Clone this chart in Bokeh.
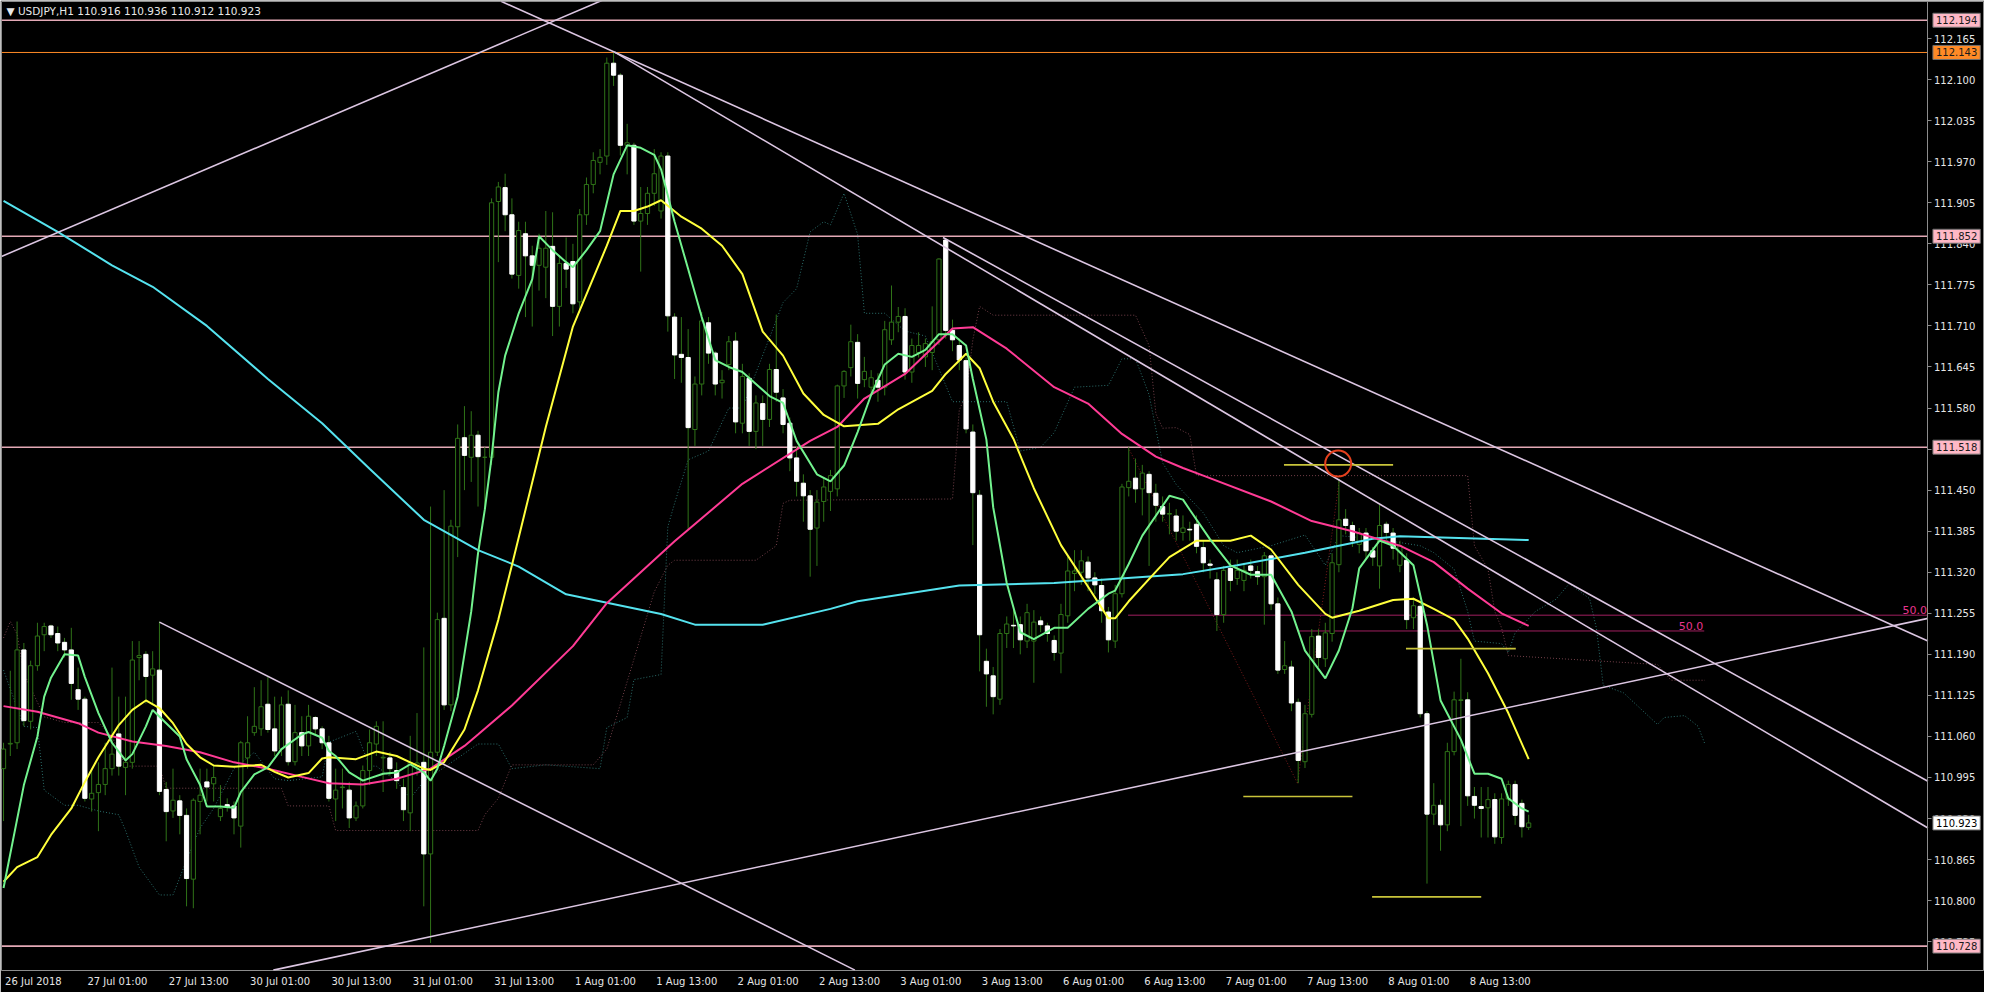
from bokeh.plotting import figure
from bokeh.models import Range1d, FixedTicker, PrintfTickFormatter, Label, LinearAxis, ColumnDataSource
from bokeh.embed import file_html
from bokeh.resources import INLINE

# ---------------- data ----------------
symbol_title = "\u25BC USDJPY,H1  110.916 110.936 110.912 110.923"

opens = [111.009,111.048,111.050,111.197,111.084,111.172,111.221,111.235,111.223,111.209,
         111.197,111.134,111.119,110.961,110.971,110.984,111.009,111.064,111.011,111.019,
         111.185,111.190,111.157,111.165,110.976,110.942,110.958,110.935,110.834,110.957,
         110.988,110.985,110.933,110.952,110.950,110.918,111.026,111.066,111.072,111.111,
         111.072,111.040,111.111,111.020,111.066,111.045,111.090,111.072,111.050,110.961,
         110.979,110.975,110.931,110.950,111.006,111.048,111.026,111.026,111.006,110.979,
         110.939,111.014,111.019,110.874,111.035,111.247,111.110,111.392,111.533,111.502,
         111.537,111.502,111.502,111.907,111.929,111.886,111.790,111.856,111.821,111.806,
         111.803,111.836,111.741,111.809,111.812,111.748,111.886,111.934,111.969,111.979,
         112.126,112.107,111.996,111.996,111.876,111.888,111.920,111.892,111.979,111.724,
         111.665,111.660,111.546,111.618,111.715,111.667,111.620,111.649,111.686,111.556,
         111.627,111.543,111.587,111.562,111.641,111.596,111.556,111.501,111.461,111.441,
         111.390,111.432,111.448,111.452,111.615,111.644,111.684,111.625,111.613,111.624,
         111.613,111.688,111.716,111.725,111.637,111.668,111.661,111.668,111.688,111.846,
         111.703,111.679,111.655,111.542,111.442,111.179,111.156,111.119,111.223,111.236,
         111.237,111.211,111.211,111.243,111.235,111.212,111.192,111.251,111.318,111.320,
         111.336,111.311,111.299,111.257,111.211,111.286,111.454,111.469,111.452,111.475,
         111.445,111.424,111.412,111.409,111.383,111.388,111.396,111.359,111.333,111.308,
         111.253,111.326,111.310,111.307,111.330,111.321,111.313,111.346,111.270,111.166,
         111.170,111.114,111.020,111.095,111.219,111.183,111.223,111.332,111.404,111.394,
         111.364,111.382,111.354,111.330,111.396,111.382,111.331,111.339,111.248,111.266,
         111.096,110.937,110.951,110.920,111.036,111.117,111.118,110.965,110.949,110.947,
         110.960,110.900,110.961,110.984,110.954,110.916]
highs = [111.050,111.164,111.242,111.208,111.180,111.240,111.240,111.237,111.234,111.216,
         111.232,111.169,111.123,111.009,111.019,111.050,111.169,111.123,111.123,111.211,
         111.211,111.195,111.195,111.242,110.988,111.009,110.967,110.946,110.962,111.009,
         111.009,111.014,110.983,110.962,110.957,111.053,111.092,111.138,111.149,111.154,
         111.123,111.123,111.133,111.110,111.092,111.110,111.092,111.076,111.061,111.009,
         111.009,110.988,110.957,111.014,111.071,111.084,111.084,111.035,111.019,110.993,
         111.061,111.097,111.201,111.424,111.256,111.450,111.403,111.554,111.583,111.575,
         111.544,111.518,111.912,111.938,111.951,111.912,111.875,111.875,111.837,111.856,
         111.892,111.890,111.822,111.850,111.840,111.895,111.945,111.985,111.990,112.135,
         112.143,112.110,112.030,112.000,111.930,111.930,111.990,111.985,111.985,111.730,
         111.724,111.705,111.630,111.732,111.724,111.670,111.640,111.694,111.700,111.650,
         111.635,111.600,111.600,111.650,111.728,111.610,111.565,111.520,111.475,111.450,
         111.450,111.470,111.482,111.617,111.640,111.712,111.697,111.661,111.640,111.635,
         111.718,111.774,111.740,111.738,111.690,111.700,111.690,111.741,111.817,111.849,
         111.720,111.690,111.660,111.554,111.450,111.199,111.170,111.230,111.250,111.260,
         111.250,111.270,111.260,111.250,111.240,111.220,111.270,111.345,111.355,111.355,
         111.345,111.320,111.310,111.265,111.300,111.460,111.518,111.500,111.490,111.480,
         111.460,111.440,111.430,111.420,111.410,111.400,111.410,111.370,111.340,111.320,
         111.330,111.340,111.340,111.335,111.340,111.330,111.352,111.350,111.280,111.211,
         111.180,111.120,111.110,111.230,111.230,111.240,111.350,111.468,111.420,111.400,
         111.390,111.390,111.360,111.427,111.400,111.390,111.370,111.350,111.280,111.270,
         111.100,110.986,110.960,111.050,111.131,111.183,111.130,110.980,110.980,110.980,
         110.970,110.970,110.990,110.990,110.960,110.936]
lows = [110.926,111.029,111.040,111.076,111.071,111.164,111.195,111.216,111.195,111.185,
        111.118,111.102,110.957,110.941,110.910,110.967,110.998,110.998,110.967,111.009,
        111.149,111.112,111.112,110.967,110.894,110.931,110.905,110.791,110.788,110.905,
        110.957,110.957,110.926,110.941,110.905,110.884,111.009,111.061,111.061,111.066,
        111.029,111.029,111.014,111.014,111.029,111.029,111.061,111.040,110.957,110.926,
        110.946,110.915,110.926,110.946,110.983,111.029,110.972,110.998,110.977,110.926,
        110.910,110.998,110.791,110.733,111.029,111.102,111.100,111.344,111.450,111.463,
        111.424,111.422,111.490,111.811,111.860,111.785,111.769,111.724,111.709,111.766,
        111.754,111.694,111.709,111.770,111.730,111.735,111.870,111.920,111.950,111.965,
        112.090,111.980,111.950,111.870,111.796,111.870,111.900,111.880,111.701,111.626,
        111.620,111.388,111.520,111.600,111.650,111.600,111.595,111.640,111.540,111.540,
        111.520,111.515,111.520,111.550,111.590,111.540,111.480,111.440,111.400,111.313,
        111.330,111.400,111.417,111.440,111.596,111.630,111.595,111.613,111.600,111.590,
        111.600,111.680,111.700,111.625,111.620,111.660,111.645,111.640,111.680,111.690,
        111.670,111.640,111.540,111.363,111.163,111.107,111.095,111.110,111.200,111.200,
        111.190,111.200,111.145,111.225,111.210,111.180,111.160,111.240,111.290,111.300,
        111.290,111.285,111.240,111.193,111.200,111.280,111.440,111.430,111.410,111.330,
        111.400,111.400,111.380,111.370,111.370,111.370,111.350,111.320,111.310,111.227,
        111.240,111.290,111.300,111.290,111.310,111.300,111.237,111.260,111.159,111.159,
        111.100,110.986,111.010,111.090,111.170,111.170,111.210,111.320,111.380,111.360,
        111.350,111.340,111.330,111.294,111.370,111.340,111.320,111.230,111.230,111.090,
        110.827,110.920,110.879,110.910,111.030,110.918,110.950,110.930,110.900,110.900,
        110.890,110.890,110.950,110.920,110.900,110.912]
closes = [111.040,111.049,111.197,111.085,111.172,111.219,111.234,111.221,111.208,111.197,
          111.144,111.119,110.962,110.970,110.984,111.009,111.032,111.013,111.019,111.181,
          111.188,111.155,111.167,110.973,110.941,110.959,110.935,110.835,110.959,110.967,
          110.980,110.995,110.946,110.948,110.931,111.050,111.050,111.076,111.107,111.071,
          111.037,111.110,111.020,111.066,111.045,111.092,111.072,111.050,110.962,110.975,
          110.980,110.931,110.950,111.006,111.050,111.076,111.027,111.009,110.990,110.944,
          111.019,111.018,110.874,111.035,111.245,111.110,111.393,111.532,111.505,111.537,
          111.503,111.502,111.905,111.930,111.886,111.792,111.861,111.821,111.806,111.833,
          111.833,111.741,111.809,111.800,111.745,111.886,111.934,111.972,111.977,112.126,
          112.107,111.996,112.000,111.876,111.888,111.920,111.951,111.979,111.726,111.664,
          111.660,111.549,111.618,111.718,111.667,111.618,111.624,111.685,111.558,111.630,
          111.543,111.588,111.562,111.641,111.605,111.554,111.501,111.464,111.441,111.388,
          111.431,111.455,111.473,111.615,111.638,111.685,111.619,111.638,111.628,111.613,
          111.704,111.716,111.725,111.637,111.679,111.679,111.682,111.685,111.816,111.703,
          111.688,111.656,111.547,111.446,111.221,111.159,111.123,111.223,111.238,111.235,
          111.213,111.256,111.241,111.237,111.223,111.193,111.253,111.322,111.322,111.338,
          111.311,111.300,111.259,111.213,111.286,111.455,111.464,111.452,111.477,111.446,
          111.426,111.412,111.413,111.385,111.390,111.387,111.361,111.335,111.331,111.253,
          111.323,111.307,111.323,111.323,111.323,111.313,111.346,111.270,111.165,111.172,
          111.113,111.022,111.096,111.218,111.185,111.224,111.335,111.403,111.394,111.370,
          111.382,111.354,111.344,111.394,111.383,111.358,111.362,111.245,111.267,111.096,
          110.937,110.951,110.920,111.036,111.118,111.118,110.966,110.951,110.946,110.960,
          110.901,110.961,110.984,110.935,110.917,110.923]

# moving averages sampled at bar indices
ma_fast_bar = [0,3,5,6,7,9,11,12,14,16,18,19,21,22,24,26,27,29,30,32,34,35,37,39,41,44,45,47,48,49,
               51,53,56,58,60,62,63,64,65,67,69,70,71,72,73,74,76,78,79,81,83,84,86,88,90,92,94,96,97,99,
               101,103,105,107,109,111,113,115,117,120,122,124,126,128,130,132,134,136,138,140,142,143,145,146,148,150,152,155,157,160,
               163,164,166,168,172,174,175,178,181,184,187,190,192,195,197,199,200,203,205,208,210,212,215,217,219,221,222,224,225]
ma_fast_val = [110.820,110.983,111.060,111.123,111.153,111.190,111.188,111.154,111.097,111.050,111.022,111.032,111.076,111.102,111.081,111.060,111.024,110.983,110.949,110.949,
               110.947,110.972,111.000,111.011,111.040,111.063,111.067,111.058,111.037,111.029,111.003,110.990,111.001,111.003,111.016,111.003,110.990,111.009,111.045,111.123,
               111.258,111.350,111.419,111.502,111.605,111.663,111.730,111.784,111.852,111.830,111.811,111.803,111.830,111.860,111.950,111.996,111.992,111.981,111.958,111.875,
               111.800,111.724,111.656,111.645,111.637,111.618,111.599,111.588,111.528,111.475,111.464,111.489,111.542,111.601,111.649,111.666,111.661,111.672,111.697,111.697,
               111.679,111.626,111.530,111.423,111.303,111.225,111.214,111.232,111.232,111.262,111.286,111.291,111.333,111.378,111.441,111.435,111.419,111.372,111.331,111.316,
               111.316,111.258,111.196,111.152,111.196,111.263,111.326,111.370,111.362,111.331,111.237,111.117,111.055,111.001,111.001,110.993,110.962,110.946,110.941]
ma_mid_bar = [0,2,5,7,10,12,14,17,19,21,23,25,27,29,31,34,38,40,42,45,47,48,52,55,58,60,62,63,65,68,
              70,73,75,80,84,89,91,93,95,97,100,103,106,109,112,115,118,121,124,129,132,137,139,142,144,146,149,152,156,160,
              163,164,166,170,172,176,181,184,187,191,195,196,200,205,208,211,214,216,219,222,225]
ma_mid_val = [110.830,110.853,110.869,110.904,110.946,110.988,111.027,111.078,111.102,111.117,111.105,111.081,111.048,111.027,111.014,111.012,111.015,111.004,110.995,111.002,
              111.025,111.027,111.024,111.036,111.029,111.019,111.009,111.007,111.019,111.071,111.133,111.245,111.331,111.550,111.709,111.837,111.892,111.892,111.899,111.909,
              111.883,111.864,111.837,111.792,111.701,111.663,111.603,111.569,111.551,111.555,111.578,111.607,111.634,111.666,111.643,111.590,111.531,111.453,111.363,111.297,
              111.247,111.247,111.274,111.321,111.344,111.370,111.370,111.378,111.356,111.300,111.254,111.248,111.259,111.276,111.278,111.262,111.245,111.215,111.160,111.097,111.024]
ma_slow_bar = [0,5,11,14,19,24,29,34,39,44,48,53,58,63,68,70,75,84,89,99,109,119,123,127,133,140,143,148,155,160,
               165,170,174,177,187,193,199,206,211,216,221,225]
ma_slow_val = [111.108,111.099,111.081,111.066,111.052,111.045,111.035,111.019,111.009,110.996,110.986,110.984,110.993,111.009,111.045,111.063,111.109,111.203,111.271,111.369,
               111.460,111.528,111.550,111.595,111.634,111.706,111.708,111.674,111.613,111.587,111.539,111.503,111.485,111.473,111.432,111.401,111.385,111.362,111.336,111.294,111.255,111.235]
ma_long_bar = [0,8,16,22,30,39,47,54,62,70,76,83,97,102,112,122,126,141,155,174,182,192,202,206,225]
ma_long_val = [111.908,111.859,111.806,111.772,111.710,111.626,111.556,111.484,111.403,111.355,111.329,111.285,111.254,111.237,111.237,111.262,111.274,111.299,111.303,111.317,
               111.331,111.351,111.373,111.377,111.371]

# Ichimoku senkou spans (shifted 26 bars ahead)
span_a_bar = [0,3,5,6,9,11,14,17,18,20,23,25,27,29,31,34,37,40,42,47,48,52,54,55,58,60,62,63,70,73,
              75,80,88,89,92,93,97,98,99,101,104,107,109,115,117,119,121,122,124,126,127,130,133,136,140,148,150,153,155,158,
              163,165,167,169,171,173,177,180,182,187,192,195,197,203,209,211,214,216,217,221,222,223,226,229,231,234,235,236,239,242,
              244,245,248,250,251]
span_a_val = [111.165,111.076,111.074,110.975,110.951,110.951,110.942,110.936,110.911,110.853,110.809,110.809,110.864,110.915,110.946,111.009,111.035,110.993,110.990,110.996,
              111.051,111.068,111.013,111.013,110.989,110.962,110.989,110.996,111.048,111.048,111.009,111.015,111.009,111.074,111.090,111.150,111.158,111.392,111.429,111.498,
              111.512,111.580,111.580,111.747,111.769,111.859,111.875,111.870,111.920,111.855,111.730,111.730,111.702,111.694,111.590,111.590,111.512,111.518,111.541,111.613,
              111.616,111.658,111.658,111.601,111.493,111.459,111.414,111.362,111.351,111.362,111.379,111.331,111.378,111.372,111.362,111.351,111.325,111.258,111.211,111.207,
              111.193,111.224,111.258,111.277,111.302,111.278,111.231,111.141,111.129,111.099,111.079,111.090,111.093,111.076,111.048]
span_b_bar = [0,1,2,3,6,9,14,16,18,23,24,41,42,48,49,70,71,73,75,87,89,96,98,99,111,114,115,116,140,141,
              142,143,144,146,167,169,170,171,173,175,176,216,217,219,220,221,222,244,246,251]
span_b_val = [111.216,111.242,111.222,111.160,111.091,111.082,111.082,111.060,111.013,111.013,110.978,110.978,110.950,110.950,110.911,110.911,110.936,110.962,111.015,111.015,
              111.040,111.289,111.331,111.339,111.339,111.362,111.429,111.434,111.436,111.577,111.601,111.688,111.741,111.727,111.727,111.679,111.571,111.548,111.549,111.538,
              111.473,111.473,111.362,111.325,111.258,111.232,111.188,111.174,111.149,111.149]

# horizontal price levels
level_prices = [112.194, 112.143, 111.852, 111.518, 110.728]
level_kinds = ["pink", "orange", "pink", "pink", "pink"]
last_price = 110.923

# trend lines: bar/price anchors
trend_x0 = [39.8, -0.3, 73.4, 90.1, 138.6, 23.0]
trend_y0 = [110.690, 111.820, 112.224, 112.144, 111.850, 111.241]
trend_x1 = [283.9, 100.0, 283.9, 283.9, 283.9, 125.6]
trend_y1 = [111.247, 112.279, 111.211, 110.915, 110.989, 110.690]

# short yellow levels
ylev_x0 = [188.9, 206.9, 182.9, 201.9]
ylev_x1 = [205.0, 223.1, 199.0, 218.0]
ylev_y = [111.490, 111.199, 110.965, 110.806]

# fibo retracements: (start bar, price) -> (end bar, price), 50% level
fib_x0 = [165.9, 190.9]
fib_y0 = [111.518, 110.986]
fib_x1 = [190.9, 197.1]
fib_y1 = [110.986, 111.468]
fib_level_end = [283.9, 250.9]
circle_bar = [196.9]
circle_price = [111.492]

time_ticks = [0, 12, 24, 36, 48, 60, 72, 84, 96, 108, 120, 132, 144, 156, 168, 180, 192, 204, 216]
time_labels = ["26 Jul 2018", "27 Jul 01:00", "27 Jul 13:00", "30 Jul 01:00", "30 Jul 13:00",
               "31 Jul 01:00", "31 Jul 13:00", "1 Aug 01:00", "1 Aug 13:00", "2 Aug 01:00",
               "2 Aug 13:00", "3 Aug 01:00", "3 Aug 13:00", "6 Aug 01:00", "6 Aug 13:00",
               "7 Aug 01:00", "7 Aug 13:00", "8 Aug 01:00", "8 Aug 13:00"]
price_ticks = [112.165, 112.100, 112.035, 111.970, 111.905, 111.840, 111.775, 111.710, 111.645,
               111.580, 111.515, 111.450, 111.385, 111.320, 111.255, 111.190, 111.125, 111.060,
               110.995, 110.930, 110.865, 110.800, 110.735]

X_START, X_END, X_WINDOW = -0.3, 283.9, 292.1   # chart left, price-scale border, window edge
Y_BOTTOM, Y_TOP = 110.6894, 112.2237

# ---------------- styles ----------------
FONT = "DejaVu Sans"
WICK = "#2f7318"
PINK_LINE = "#e3a9b6"
PINK_BOX = "#ffb8c6"
ORANGE = "#ff8a26"
TREND = "#dcc6e2"
GRID_GRAY = "#8c8c8c"
LABEL_SHIFT = 4.8   # MT4 writes time labels to the right of their tick

p = figure(width=1984, height=992, output_backend="svg", toolbar_location=None,
           x_range=Range1d(X_START, X_WINDOW), y_range=Range1d(Y_BOTTOM, Y_TOP),
           y_axis_location=None, background_fill_color="black", border_fill_color="black",
           min_border_left=1, min_border_top=1, min_border_right=1, min_border_bottom=22)
p.grid.visible = False
p.outline_line_color = GRID_GRAY
p.outline_line_width = 1

# time axis: labels (shifted right of tick) + tick marks at the bar positions
xa = p.xaxis[0]
label_pos = [t + (LABEL_SHIFT - 0.4 if i == 0 else LABEL_SHIFT) for i, t in enumerate(time_ticks)]
xa.ticker = FixedTicker(ticks=label_pos)
xa.major_label_overrides = {lp: lab for lp, lab in zip(label_pos, time_labels)}
xa.axis_line_color = None
xa.major_tick_line_color = None
xa.minor_tick_line_color = None
xa.major_tick_out = 0
xa.major_tick_in = 0
xa.major_label_standoff = 5
xa.major_label_text_color = "#e6e6e6"
xa.major_label_text_font = FONT
xa.major_label_text_font_size = "10px"

xt = LinearAxis(fixed_location=Y_BOTTOM, ticker=FixedTicker(ticks=time_ticks),
                axis_line_color=None, major_tick_line_color=GRID_GRAY, minor_tick_line_color=None,
                major_tick_out=4, major_tick_in=0, major_label_text_alpha=0,
                major_label_text_font_size="10px")
p.add_layout(xt, "below")

# price axis drawn at the price-scale border
ya = LinearAxis(fixed_location=X_END, ticker=FixedTicker(ticks=price_ticks),
                formatter=PrintfTickFormatter(format="%.3f"),
                axis_line_color=GRID_GRAY, major_tick_line_color=GRID_GRAY, minor_tick_line_color=None,
                major_tick_out=4, major_tick_in=0, major_label_standoff=2,
                major_label_text_color="#e6e6e6", major_label_text_font=FONT,
                major_label_text_font_size="10px")
p.add_layout(ya, "right")

# ichimoku spans (dotted)
p.line(span_a_bar, span_a_val, line_color="#2b6f6c", line_width=1, line_dash="1 2")
p.line(span_b_bar, span_b_val, line_color="#74404a", line_width=1, line_dash="1 2")

# fibo diagonals
p.segment(x0=fib_x0, y0=fib_y0, x1=fib_x1, y1=fib_y1, line_color="#7c1c1c", line_width=1, line_dash="1 2")

# horizontal levels
p.segment(x0=[X_START] * len(level_prices), y0=level_prices, x1=[X_END] * len(level_prices), y1=level_prices,
          line_color=[ORANGE if k == "orange" else PINK_LINE for k in level_kinds],
          line_width=[1 if k == "orange" else 1.6 for k in level_kinds])

# fib 50% levels
fib_mid = [(a + b) / 2 for a, b in zip(fib_y0, fib_y1)]
p.segment(x0=fib_x0, y0=fib_mid, x1=fib_level_end, y1=fib_mid, line_color="#a01f5f", line_width=1)

# candles
bars = list(range(len(opens)))
bull = [c >= o for o, c in zip(opens, closes)]
src = ColumnDataSource(dict(
    x=bars, o=opens, h=highs, l=lows, c=closes,
    top=[max(o, c) for o, c in zip(opens, closes)],
    bottom=[min(o, c) for o, c in zip(opens, closes)],
    fill=["black" if b else "white" for b in bull],
    line=[WICK if b else "white" for b in bull],
))
p.segment(x0="x", y0="l", x1="x", y1="h", source=src, line_color=WICK, line_width=1)
p.vbar(x="x", width=0.62, top="top", bottom="bottom", fill_color="fill", line_color="line",
       line_width=1, source=src)

# moving averages
p.line(ma_long_bar, ma_long_val, line_color="#55e3ef", line_width=2)
p.line(ma_slow_bar, ma_slow_val, line_color="#ff3b95", line_width=2)
p.line(ma_mid_bar, ma_mid_val, line_color="#ffff3c", line_width=2)
p.line(ma_fast_bar, ma_fast_val, line_color="#72f28e", line_width=2)

# trend lines
p.segment(x0=trend_x0, y0=trend_y0, x1=trend_x1, y1=trend_y1, line_color=TREND, line_width=1.6)

# yellow short levels
p.segment(x0=ylev_x0, y0=ylev_y, x1=ylev_x1, y1=ylev_y, line_color="#c9c43a", line_width=1.6)

# red circle
p.scatter(circle_bar, circle_price, marker="circle", size=26, fill_color=None,
          line_color="#e5401d", line_width=2)

# 50.0 fib labels
for xe, ym in zip(fib_level_end, fib_mid):
    p.add_layout(Label(x=xe, y=ym, text="50.0", text_align="right", text_baseline="bottom",
                       x_offset=-1, y_offset=1, text_color="#e8358e", text_font=FONT,
                       text_font_size="11px"))

# title
p.add_layout(Label(x=X_START, y=Y_TOP, x_offset=5, y_offset=-3, text=symbol_title,
                   text_baseline="top", text_align="left", text_color="#e8e8e8",
                   text_font=FONT, text_font_size="10.5px"))

# price boxes on the price scale
for price, kind in zip(level_prices, level_kinds):
    p.add_layout(Label(x=X_END, y=price, x_offset=5, text=f"{price:.3f}",
                       text_baseline="middle", text_align="left", text_color="#1a1a1a",
                       text_font=FONT, text_font_size="10px",
                       background_fill_color=ORANGE if kind == "orange" else PINK_BOX,
                       border_line_color="#6e6e6e", padding=3))
p.add_layout(Label(x=X_END, y=last_price, x_offset=5, text=f"{last_price:.3f}",
                   text_baseline="middle", text_align="left", text_color="#000000",
                   text_font=FONT, text_font_size="10px", background_fill_color="white",
                   border_line_color="#6e6e6e", padding=3))

open("out.html", "w").write(file_html(p, INLINE))
